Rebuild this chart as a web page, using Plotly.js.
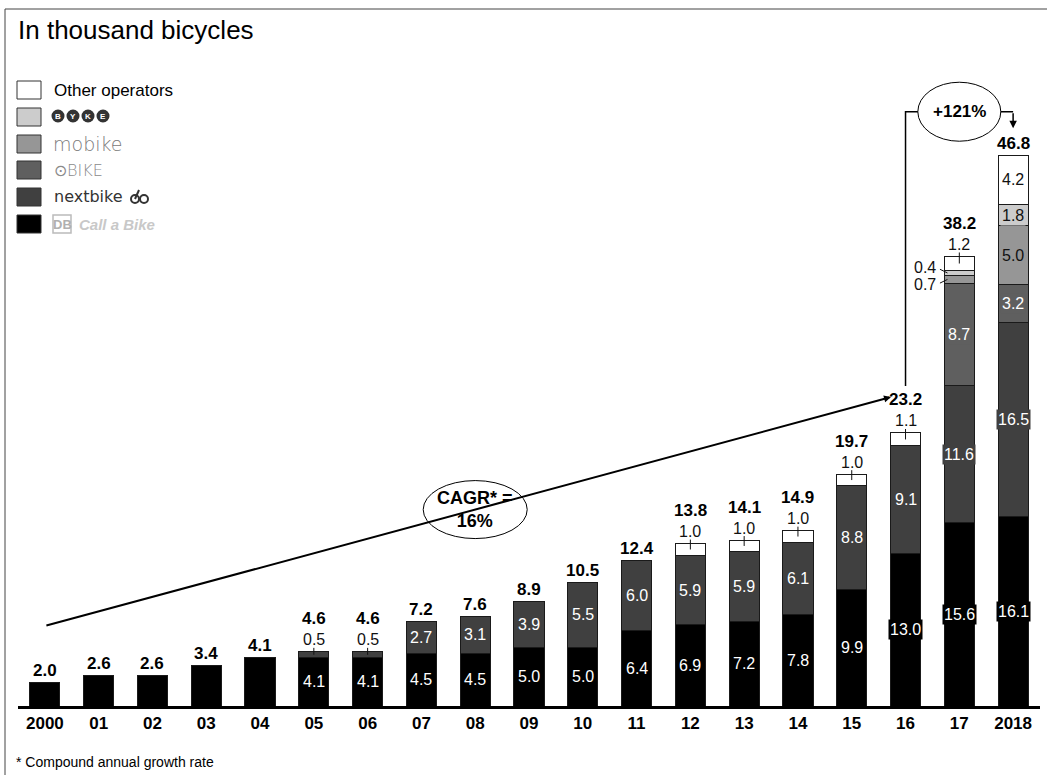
<!DOCTYPE html>
<html>
<head>
<meta charset="utf-8">
<script src="https://cdn.plot.ly/plotly-3.0.1.min.js"></script>
<style>
  html, body { margin: 0; padding: 0; background: #fff; }
  #chart { width: 1047px; height: 775px; }
</style>
</head>
<body>
<div id="chart"></div>
<script>
// Bike-sharing fleet in Germany, thousand bicycles per operator
const years     = ['2000','01','02','03','04','05','06','07','08','09','10','11','12','13','14','15','16','17','2018'];
const callABike = [2.0, 2.6, 2.6, 3.4, 4.1, 4.1, 4.1, 4.5, 4.5, 5.0, 5.0, 6.4, 6.9, 7.2, 7.8, 9.9, 13.0, 15.6, 16.1];
const nextbike  = [null, null, null, null, null, 0.5, 0.5, 2.7, 3.1, 3.9, 5.5, 6.0, 5.9, 5.9, 6.1, 8.8, 9.1, 11.6, 16.5];
const oBike     = [null, null, null, null, null, null, null, null, null, null, null, null, null, null, null, null, null, 8.7, 3.2];
const mobike    = [null, null, null, null, null, null, null, null, null, null, null, null, null, null, null, null, null, 0.7, 5.0];
const byke      = [null, null, null, null, null, null, null, null, null, null, null, null, null, null, null, null, null, 0.4, 1.8];
const others    = [null, null, null, null, null, null, null, null, null, null, null, null, 1.0, 1.0, 1.0, 1.0, 1.1, 1.2, 4.2];
const totals    = [2.0, 2.6, 2.6, 3.4, 4.1, 4.6, 4.6, 7.2, 7.6, 8.9, 10.5, 12.4, 13.8, 14.1, 14.9, 19.7, 23.2, 38.2, 46.8];
const cagrText  = 'CAGR* =<br>16%';
const jumpText  = '+121%';
const footnote  = '* Compound annual growth rate';

const FONT = 'Liberation Sans, Arial, sans-serif';
const W = 1047, H = 775;
const M = { l: 18, r: 7, t: 47, b: 69 };
const PW = W - M.l - M.r, PH = H - M.t - M.b;
const YMAX = 56;
const PXU = PH / YMAX;                 // pixels per thousand bicycles
const fx = px => (px - M.l) / PW;      // page pixel -> paper x
const fy = py => (H - M.b - py) / PH;  // page pixel -> paper y

const annotations = [];
const shapes = [];
// annotations default to centred anchors (Plotly's 'auto' shifts paper-placed text)
const ann = o => annotations.push(Object.assign({ xanchor: 'center', yanchor: 'middle', showarrow: false }, o));

// stacked series, bottom to top
const series = [
  { name: 'Call a Bike', vals: callABike, color: '#000000', txt: '#ffffff' },
  { name: 'nextbike',    vals: nextbike,  color: '#404040', txt: '#ffffff' },
  { name: 'oBike',       vals: oBike,     color: '#5f5f5f', txt: '#ffffff' },
  { name: 'mobike',      vals: mobike,    color: '#969696', txt: '#111111' },
  { name: 'Byke',        vals: byke,      color: '#cccccc', txt: '#111111' },
  { name: 'Other',       vals: others,    color: '#ffffff', txt: '#111111' }
];

const traces = series.map(s => ({
  type: 'bar', name: s.name, x: years, y: s.vals,
  marker: { color: s.color, line: { color: '#1a1a1a', width: 1 } },
  hoverinfo: 'x+y+name', showlegend: false
}));

const HALF = 0.28;   // half bar width in category units

years.forEach((yr, i) => {
  const segs = [];
  let base = 0;
  series.forEach(s => {
    const v = s.vals[i];
    if (v == null) return;
    segs.push({ v, base, s });
    base += v;
  });
  const multi = segs.length > 1;
  let topSmall = false;
  const leftSegs = [];
  segs.forEach((g, k) => {
    if (!multi) return;
    const c = g.base + g.v / 2;
    if (g.v >= 1.5) {
      ann({ x: i, y: c, xref: 'x', yref: 'y', text: g.v.toFixed(1),
        font: { family: FONT, size: 16, color: g.s.txt }, bgcolor: g.s.color, borderpad: 1 });
    } else if (k === segs.length - 1) {
      topSmall = true;
      ann({ x: i, y: totals[i], xref: 'x', yref: 'y', yshift: 12, text: g.v.toFixed(1),
        font: { family: FONT, size: 16, color: '#111' } });
      shapes.push({ type: 'line', xref: 'x', yref: 'y', x0: i, x1: i,
        y0: c, y1: totals[i] + 4 / PXU, line: { color: '#111', width: 1 } });
    } else {
      leftSegs.push({ v: g.v, c });
    }
  });
  // small inner segments: labels to the left, spread vertically
  if (leftSegs.length) {
    const mean = leftSegs.reduce((a, g) => a + g.c, 0) / leftSegs.length;
    const step = 17 / PXU;
    leftSegs.forEach((g, k) => {
      const ly = mean + (k - (leftSegs.length - 1) / 2) * step;
      ann({ x: i - 0.39, y: ly, xref: 'x', yref: 'y', xanchor: 'right', text: g.v.toFixed(1),
        font: { family: FONT, size: 16, color: '#111' } });
      shapes.push({ type: 'line', xref: 'x', yref: 'y', x0: i - 0.36, y0: ly - (ly - g.c) * 0.3,
        x1: i - HALF + 0.06, y1: g.c, line: { color: '#111', width: 1 } });
    });
  }
  ann({ x: i, y: totals[i], xref: 'x', yref: 'y', yshift: topSmall ? 33 : 12,
    text: '<b>' + totals[i].toFixed(1) + '</b>', font: { family: FONT, size: 17, color: '#000' } });
});

// CAGR line from first to 2016 bar, with oval label on it
const last = years.length - 1;
const cagrX0 = 0, cagrY0 = totals[0] + 4.8;
const cagrX1 = 15.73, cagrY1 = totals[16] + 3.05;
annotations.push({
  x: cagrX1, y: cagrY1, ax: cagrX0, ay: cagrY0, xref: 'x', yref: 'y', axref: 'x', ayref: 'y',
  text: '', showarrow: true, arrowhead: 2, arrowsize: 0.7, arrowwidth: 2, arrowcolor: '#000'
});
const ovX = 8;
const ovY = cagrY0 + (cagrY1 - cagrY0) * (ovX - cagrX0) / (cagrX1 - cagrX0);
shapes.push({ type: 'circle', xref: 'x', yref: 'y', xsizemode: 'pixel', ysizemode: 'pixel',
  xanchor: ovX, yanchor: ovY, x0: -52, x1: 52, y0: -29, y1: 29,
  fillcolor: '#fff', line: { color: '#000', width: 1 }, layer: 'above' });
ann({ x: ovX, y: ovY, xref: 'x', yref: 'y', text: '<b>' + cagrText + '</b>',
  font: { family: FONT, size: 18, color: '#000' } });

// 2016 -> 2018 growth connector
const jumpY = 50.5;
const jumpX = 17;
shapes.push({ type: 'path', xref: 'x', yref: 'y',
  path: `M 16 ${totals[16] + 4.0} L 16 ${jumpY} L ${last} ${jumpY}`,
  line: { color: '#000', width: 1.5 } });
annotations.push({
  x: last, y: totals[last] + 2.3, ax: last, ay: jumpY, xref: 'x', yref: 'y', axref: 'x', ayref: 'y',
  text: '', showarrow: true, arrowhead: 2, arrowsize: 1, arrowwidth: 1.5, arrowcolor: '#000'
});
shapes.push({ type: 'circle', xref: 'x', yref: 'y', xsizemode: 'pixel', ysizemode: 'pixel',
  xanchor: jumpX, yanchor: jumpY, x0: -41.5, x1: 41.5, y0: -29.5, y1: 29.5,
  fillcolor: '#fff', line: { color: '#000', width: 1 }, layer: 'above' });
ann({ x: jumpX, y: jumpY, xref: 'x', yref: 'y', text: '<b>' + jumpText + '</b>',
  font: { family: FONT, size: 17, color: '#000' } });

// legend (custom: operator logos as styled text)
const legendRows = [90, 117, 144, 170, 197, 224];
const legendFill = ['#ffffff', '#cccccc', '#969696', '#5f5f5f', '#404040', '#000000'];
legendRows.forEach((ry, k) => {
  shapes.push({ type: 'rect', xref: 'paper', yref: 'paper',
    x0: fx(17), x1: fx(41), y0: fy(ry + 9), y1: fy(ry - 9),
    fillcolor: legendFill[k], line: { color: '#333', width: 1 } });
});
const LX = fx(52);
ann({ x: LX, y: fy(legendRows[0]), xref: 'paper', yref: 'paper', xanchor: 'left',
  text: 'Other operators', font: { family: FONT, size: 17, color: '#000' } });
// BYKE: four dark discs with white letters
['B', 'Y', 'K', 'E'].forEach((ch, k) => {
  const cx = 58 + k * 15;
  shapes.push({ type: 'circle', xref: 'paper', yref: 'paper', xsizemode: 'pixel', ysizemode: 'pixel',
    xanchor: fx(cx), yanchor: fy(legendRows[1] - 1), x0: -6.5, x1: 6.5, y0: -6.5, y1: 6.5,
    fillcolor: '#333', line: { color: '#333', width: 0 }, layer: 'below' });
  ann({ x: fx(cx), y: fy(legendRows[1] - 1), xref: 'paper', yref: 'paper',
    text: '<b>' + ch + '</b>', font: { family: FONT, size: 8, color: '#fff' } });
});
ann({ x: fx(51), y: fy(legendRows[2]), xref: 'paper', yref: 'paper', xanchor: 'left',
  text: 'mobike', font: { family: 'DejaVu Sans, sans-serif', size: 19, color: '#7a7a7a', weight: 200 } });
ann({ x: LX, y: fy(legendRows[3]), xref: 'paper', yref: 'paper', xanchor: 'left',
  text: '⊙BIKE', font: { family: 'DejaVu Sans, sans-serif', size: 16, color: '#8a8a8a', weight: 200 } });
ann({ x: LX, y: fy(legendRows[4]), xref: 'paper', yref: 'paper', xanchor: 'left',
  text: 'nextbike', font: { family: 'DejaVu Sans, sans-serif', size: 16, color: '#333' } });
// small bicycle mark after "nextbike"
[135, 144].forEach(cx => {
  shapes.push({ type: 'circle', xref: 'paper', yref: 'paper', xsizemode: 'pixel', ysizemode: 'pixel',
    xanchor: fx(cx), yanchor: fy(legendRows[4] + 2), x0: -4, x1: 4, y0: -4, y1: 4,
    line: { color: '#333', width: 2 } });
});
shapes.push({ type: 'line', xref: 'paper', yref: 'paper',
  x0: fx(135), y0: fy(legendRows[4] + 2), x1: fx(139), y1: fy(legendRows[4] - 7),
  line: { color: '#333', width: 2 } });
// DB Call a Bike
shapes.push({ type: 'rect', xref: 'paper', yref: 'paper',
  x0: fx(53), x1: fx(71), y0: fy(legendRows[5] + 9), y1: fy(legendRows[5] - 9),
  fillcolor: '#fff', line: { color: '#bbbbbb', width: 1.5 }, layer: 'below' });
ann({ x: fx(62), y: fy(legendRows[5]), xref: 'paper', yref: 'paper',
  text: '<b>DB</b>', font: { family: FONT, size: 13, color: '#b0b0b0' } });
ann({ x: fx(77), y: fy(legendRows[5]), xref: 'paper', yref: 'paper', xanchor: 'left',
  text: '<b><i>Call a Bike</i></b>', font: { family: FONT, size: 15, color: '#c8c8c8' } });

// footnote
ann({ x: fx(14), y: fy(762), xref: 'paper', yref: 'paper', xanchor: 'left',
  text: footnote, font: { family: FONT, size: 14, color: '#000' } });

// page frame (left and top rules)
shapes.push({ type: 'line', xref: 'paper', yref: 'paper', x0: fx(5), x1: fx(5), y0: fy(9), y1: fy(775),
  line: { color: '#444', width: 1 } });
shapes.push({ type: 'line', xref: 'paper', yref: 'paper', x0: fx(5), x1: fx(1047), y0: fy(9), y1: fy(9),
  line: { color: '#444', width: 1 } });

const layout = {
  width: W, height: H,
  margin: M,
  paper_bgcolor: '#fff', plot_bgcolor: '#fff',
  barmode: 'stack', bargap: 0.44,
  showlegend: false,
  title: { text: 'In thousand bicycles', xref: 'container', yref: 'container',
    x: 18 / W, xanchor: 'left', y: 1 - 30 / H, yanchor: 'middle',
    font: { family: FONT, size: 26, color: '#000' } },
  xaxis: {
    type: 'category', range: [-0.5, years.length - 0.5],
    showline: true, linecolor: '#000', linewidth: 2.5, ticks: '',
    showgrid: false, zeroline: false, fixedrange: true,
    tickfont: { family: FONT, size: 17, color: '#000', weight: 'bold' }
  },
  yaxis: { range: [0, YMAX], visible: false, fixedrange: true },
  shapes, annotations
};

Plotly.newPlot('chart', traces, layout, { displayModeBar: false, staticPlot: true });
</script>
</body>
</html>
